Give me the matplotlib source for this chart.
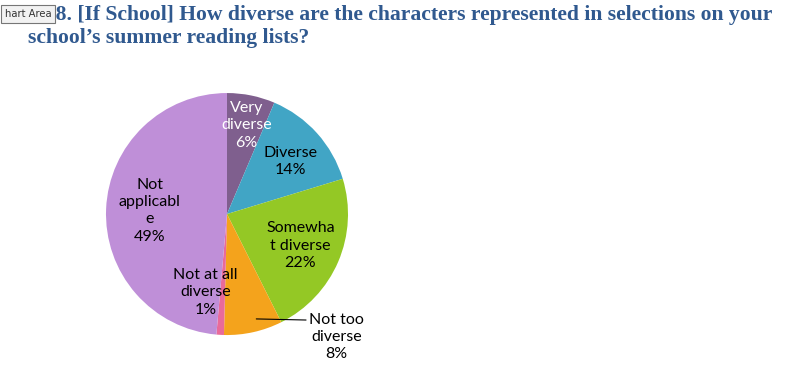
import matplotlib
matplotlib.use('Agg')
import matplotlib.pyplot as plt
import numpy as np

labels = ['Very\ndiverse', 'Diverse', 'Somewha\nt diverse', 'Not too\ndiverse',
          'Not at all\ndiverse', 'Not\napplicabl\ne']
values = [6.4, 13.9, 22.3, 7.8, 1.0, 48.6]
pct_text = ['6%', '14%', '22%', '8%', '1%', '49%']
colors = ['#7F5F8E', '#41A5C5', '#94C825', '#F4A31C', '#E96A9A', '#BF8FD8']
text_colors = ['white', 'black', 'black', 'black', 'black', 'black']

title = ("Q38. [If School] How diverse are the characters represented in selections on your\n"
         "school\u2019s summer reading lists?")

# label layout: radius (in pie radii) and angle offset (deg) from wedge middle
lab_r = [0.75, 0.68, 0.66, 1.36, 0.67, 0.64]
lab_dang = [1, 2, 0, -29, 12, 0]

fig = plt.figure(figsize=(8, 3.79), dpi=100)
ax = fig.add_axes([0.1325, 0.116, 0.3025, 0.6385])
wedges, _ = ax.pie(values, colors=colors, startangle=90, counterclock=False,
                   radius=1, wedgeprops=dict(linewidth=0))
ax.set_xlim(-1, 1)
ax.set_ylim(-1, 1)
ax.set_aspect('auto')

cum = np.cumsum([0] + values)
for i, w in enumerate(wedges):
    mid = (cum[i] + cum[i + 1]) / 2 / 100 * 360   # clockwise from top
    a = np.radians(mid + lab_dang[i])
    x, y = lab_r[i] * np.sin(a), lab_r[i] * np.cos(a)
    txt = labels[i] + '\n' + pct_text[i]
    if lab_r[i] > 1:
        am = np.radians(mid - 3)
        ax.annotate(txt, xy=(0.9 * np.sin(am), 0.9 * np.cos(am)), xytext=(x, y),
                    ha='center', va='center', fontsize=11.5, family='Lato',
                    color=text_colors[i], linespacing=1.3, annotation_clip=False,
                    arrowprops=dict(arrowstyle='-', color='black', lw=0.8,
                                    relpos=(0.0, 0.85), shrinkA=0, shrinkB=0))
    else:
        ax.text(x, y, txt, ha='center', va='center', fontsize=11.5, family='Lato',
                color=text_colors[i], linespacing=1.3)

fig.text(0.035, 0.988, title, ha='left', va='top', fontsize=15.6,
         family='Liberation Serif', fontweight='bold', color='#30598F',
         linespacing=1.25)

fig.text(0.006, 0.962, 'hart Area', ha='left', va='center', fontsize=7.2,
         family='DejaVu Sans', color='#333333', zorder=10,
         bbox=dict(boxstyle='square,pad=0.4', fc='#F2F2F2', ec='#767676', lw=0.8))

fig.savefig('out.png', dpi=100)
